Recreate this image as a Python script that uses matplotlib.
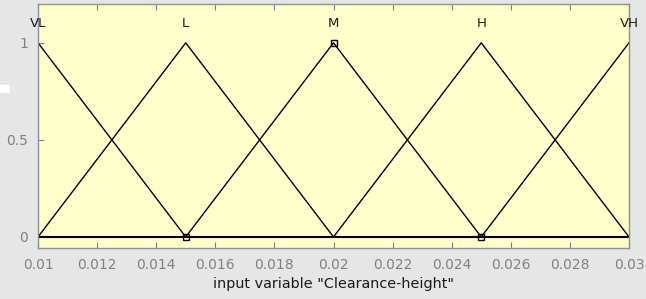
import numpy as np
import matplotlib
matplotlib.use("Agg")
import matplotlib.pyplot as plt

names = ["VL", "L", "M", "H", "VH"]
centers = [0.010, 0.015, 0.020, 0.025, 0.030]
half_width = 0.005
xmin, xmax = 0.010, 0.030
xticks = [0.01, 0.012, 0.014, 0.016, 0.018, 0.02, 0.022, 0.024, 0.026, 0.028, 0.03]
xticklabels = ["0.01", "0.012", "0.014", "0.016", "0.018", "0.02", "0.022", "0.024", "0.026", "0.028", "0.03"]
yticks = [0, 0.5, 1]
yticklabels = ["0", "0.5", "1"]
marker_x = [0.015, 0.020, 0.025]
marker_y = [0, 1, 0]
xlabel = 'input variable "Clearance-height"'

plt.rcParams['font.family'] = ['DejaVu Sans']
fig = plt.figure(figsize=(6.46, 2.99), dpi=100, facecolor='#e6e6e6')
ax = fig.add_axes([38/646, 1-248/299, (629-38)/646, (248-4)/299])
ax.set_facecolor('#ffffcc')

x = np.linspace(xmin, xmax, 2001)
for c, n in zip(centers, names):
    y = np.clip(1 - np.abs(x - c) / half_width, 0, 1)
    ax.plot(x, y, color='black', lw=1.0)
    ax.text(c, 1.10, n, ha='center', va='center', fontsize=9.5, color='#1a1a1a')

ax.plot(marker_x, marker_y, ls='none', marker='s', ms=5, mfc='none', mec='black', mew=1.0, clip_on=False)
ax.axhline(0, color='black', lw=1.5)

ax.set_xlim(xmin, xmax)
ax.set_ylim(-0.057, 1.2)
ax.set_xticks(xticks)
ax.set_xticklabels(xticklabels)
ax.set_yticks(yticks)
ax.set_yticklabels(yticklabels)
ax.tick_params(direction='in', top=True, right=False, length=4, color='#808080',
               labelcolor='#858080', labelsize=10, pad=7)
for s in ax.spines.values():
    s.set_color('#909090')
    s.set_linewidth(1.0)
ax.set_xlabel(xlabel, fontsize=10.4, color='#1a1a1a', labelpad=4)

fig.patches.append(plt.Rectangle((0, 1-93/299), 10/646, 8/299, transform=fig.transFigure,
                                 facecolor='white', edgecolor='none'))

fig.savefig('out.png', dpi=100, facecolor=fig.get_facecolor())
